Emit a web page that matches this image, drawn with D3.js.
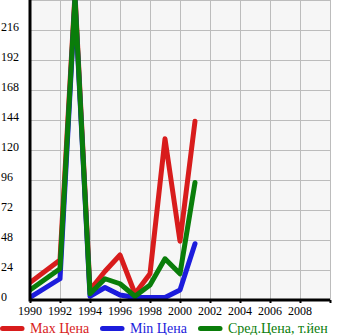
<!DOCTYPE html>
<html>
<head>
<meta charset="utf-8">
<script src="https://cdn.jsdelivr.net/npm/d3@7"></script>
<style>
  html, body { margin: 0; padding: 0; background: #fff; }
  svg { display: block; }
  text { font-family: "Liberation Serif", "Times New Roman", serif; }
</style>
</head>
<body>
<div id="chart"></div>
<script>
// Price history by model year (thousand yen)
const years    = [1990, 1992, 1993, 1994, 1995, 1996, 1997, 1998, 1999, 2000, 2001];
const maxPrice = [14, 32, 245, 8, 23, 36, 5, 21, 129, 47, 143];
const minPrice = [2, 17, 240, 3, 10, 4, 2, 2, 2, 8, 45];
const avgPrice = [8, 25, 242, 5, 17, 13, 3, 12, 33, 21, 94];

const yTicks = [0, 24, 48, 72, 96, 120, 144, 168, 192, 216];
const yGrid  = [24, 48, 72, 96, 120, 144, 168, 192, 216, 240];
const xTicks = [1990, 1992, 1994, 1996, 1998, 2000, 2002, 2004, 2006, 2008];
const xGrid  = [1992, 1994, 1996, 1998, 2000, 2002, 2004, 2006, 2008, 2010];

const seriesNames  = ["Max Цена", "Min Цена", "Сред.Цена, т.йен"];
const seriesColors = ["#d81c1c", "#1c1cdc", "#0a7d0a"];
const seriesValues = [maxPrice, minPrice, avgPrice];

const W = 345, H = 335;
const plotL = 30, plotR = 330, plotT = 0, plotB = 300;

const svg = d3.select("#chart").append("svg")
  .attr("width", W).attr("height", H);

const x = d3.scaleLinear().domain([1990, 2010]).range([plotL, plotR]);
const y = d3.scaleLinear().domain([0, 240]).range([plotB, plotT]);

// plot background
svg.append("rect")
  .attr("x", plotL).attr("y", plotT)
  .attr("width", plotR - plotL).attr("height", plotB - plotT)
  .attr("fill", "#f6f6f6");

// grid
const grid = svg.append("g")
  .attr("stroke", "#bcbcbc").attr("stroke-width", 1)
  .attr("shape-rendering", "crispEdges");
grid.selectAll("line.v").data(xGrid).enter().append("line")
  .attr("x1", d => x(d)).attr("x2", d => x(d))
  .attr("y1", plotT).attr("y2", plotB);
grid.selectAll("line.h").data(yGrid).enter().append("line")
  .attr("x1", plotL).attr("x2", plotR)
  .attr("y1", d => y(d)).attr("y2", d => y(d));

// clip for the series
svg.append("clipPath").attr("id", "plot-clip")
  .append("rect").attr("x", plotL).attr("y", plotT)
  .attr("width", plotR - plotL).attr("height", plotB - plotT);

const line = d3.line()
  .x((d, i) => x(years[i]))
  .y(d => y(d));

const lines = svg.append("g").attr("clip-path", "url(#plot-clip)");
seriesValues.forEach((vals, k) => {
  lines.append("path")
    .datum(vals)
    .attr("d", line)
    .attr("fill", "none")
    .attr("stroke", seriesColors[k])
    .attr("stroke-width", 5)
    .attr("stroke-linejoin", "round")
    .attr("stroke-linecap", "round");
});

// x axis
const xAxis = d3.axisBottom(x)
  .tickValues(xGrid.concat([1990]))
  .tickSize(3)
  .tickFormat("");
const gx = svg.append("g")
  .attr("transform", `translate(0,${plotB})`)
  .call(xAxis);
gx.select(".domain").attr("stroke", "#000").attr("stroke-width", 3)
  .attr("d", `M${plotL},0H${plotR}`);
gx.selectAll(".tick line").attr("stroke", "#000").attr("stroke-width", 2);

svg.append("g").selectAll("text").data(xTicks).enter().append("text")
  .attr("x", d => x(d))
  .attr("y", plotB + 15)
  .attr("text-anchor", "middle")
  .attr("font-size", 12)
  .attr("fill", "#000")
  .text(d => d);

// y axis
svg.append("line")
  .attr("x1", plotL).attr("x2", plotL)
  .attr("y1", plotT).attr("y2", plotB + 1.5)
  .attr("stroke", "#000").attr("stroke-width", 3);

svg.append("g").selectAll("text").data(yTicks).enter().append("text")
  .attr("x", 1)
  .attr("y", d => y(d) + 1)
  .attr("font-size", 12)
  .attr("fill", "#000")
  .text(d => d);

// legend
const legendX = [0, 100, 198];
const legend = svg.append("g");
seriesNames.forEach((name, k) => {
  legend.append("line")
    .attr("x1", legendX[k] + 2.5).attr("x2", legendX[k] + 22)
    .attr("y1", 328.5).attr("y2", 328.5)
    .attr("stroke", seriesColors[k])
    .attr("stroke-width", 5)
    .attr("stroke-linecap", "round");
  legend.append("text")
    .attr("x", legendX[k] + 30)
    .attr("y", 333)
    .attr("font-size", 14)
    .attr("fill", seriesColors[k])
    .text(name);
});
</script>
</body>
</html>
